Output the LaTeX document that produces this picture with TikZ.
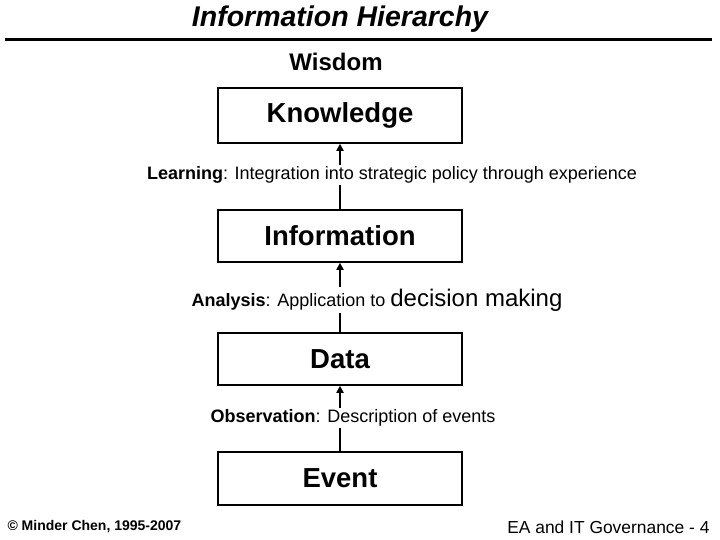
\documentclass[tikz,border=0pt]{standalone}
\usepackage{fontspec}
\setmainfont{Liberation Sans}
\usetikzlibrary{arrows.meta}

\tikzset{
  levelbox/.style={draw, line width=1.6pt, minimum width=244pt, font=\bfseries\fontsize{27.5}{32}\selectfont, inner sep=0pt},
  uparrow/.style={line width=2.6pt, -{Triangle[length=7pt,width=7pt]}},
  steplabel/.style={fill=white, inner sep=2pt, font=\fontsize{18}{21}\selectfont}
}

\begin{document}
\begin{tikzpicture}[x=1pt,y=-1pt]
    \useasboundingbox (0,0) rectangle (720,540);
    % Title and rule
    \node (title) at (340,19) {\bfseries\itshape\fontsize{28.5}{33}\selectfont Information Hierarchy};
    \draw[line width=3pt] (5,40) -- (712,40);
    \node (wisdom) at (336,62) {\bfseries\fontsize{24}{28}\selectfont Wisdom};
    % Draw the four levels
    \node[levelbox, minimum height=55pt] (know) at (340,115.5) {Knowledge};
    \node[levelbox, minimum height=52pt] (info) at (340,236) {Information};
    \node[levelbox, minimum height=52pt] (data) at (340,359) {Data};
    \node[levelbox, minimum height=53pt] (event) at (340,478.5) {Event};
    % Arrows between levels
    \draw[uparrow] (info.north) -- (know.south);
    \draw[uparrow] (data.north) -- (info.south);
    \draw[uparrow] (event.north) -- (data.south);
    % Labels on the arrows
    \node[steplabel] (learn) at (392,175) {\textbf{Learning}: Integration into strategic policy through experience};
    \node[steplabel] (analy) at (377,300) {\textbf{Analysis}: Application to {\fontsize{24}{28}\selectfont decision making}};
    \node[steplabel] (obs) at (353,418) {\textbf{Observation}: Description of events};
    % Footer
    \node[anchor=west, font=\bfseries\fontsize{14}{17}\selectfont] (copy) at (4,527) {\textcopyright{} Minder Chen, 1995-2007};
    \node[anchor=east, font=\fontsize{17.4}{20}\selectfont] (page) at (713,527) {EA and IT Governance - 4};
  \end{tikzpicture}
\end{document}
